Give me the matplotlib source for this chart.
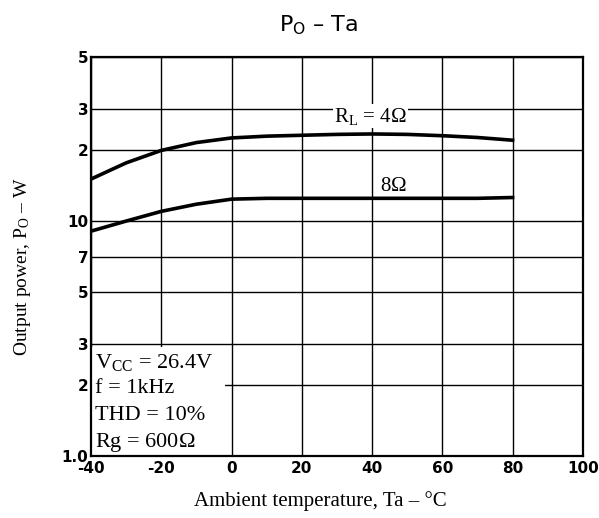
import numpy as np
import matplotlib
matplotlib.use("Agg")
import matplotlib.pyplot as plt
from matplotlib.patches import Rectangle

plt.rcParams["mathtext.fontset"] = "custom"
plt.rcParams["mathtext.rm"] = "Liberation Serif"
plt.rcParams["mathtext.it"] = "Liberation Serif:italic"
plt.rcParams["mathtext.sf"] = "DejaVu Sans"

# data
temp = [-40, -30, -20, -10, 0, 10, 20, 30, 40, 50, 60, 70, 80]
po_4ohm = [15.1, 17.7, 20.0, 21.6, 22.6, 23.0, 23.2, 23.4, 23.5, 23.4, 23.1, 22.7, 22.1]
po_8ohm = [9.06, 10.0, 11.0, 11.8, 12.4, 12.5, 12.5, 12.5, 12.5, 12.5, 12.5, 12.5, 12.6]

xticks = [-40, -20, 0, 20, 40, 60, 80, 100]
xtick_labels = ["-40", "-20", "0", "20", "40", "60", "80", "100"]
yticks = [1, 2, 3, 5, 7, 10, 20, 30, 50]
ytick_labels = ["1.0", "2", "3", "5", "7", "10", "2", "3", "5"]

serif = "Liberation Serif"
sans = "DejaVu Sans"

fig = plt.figure(figsize=(5.99, 5.18), dpi=100)
ax = fig.add_axes([0.152, 0.12, 0.821, 0.77])

ax.set_yscale("log")
ax.set_xlim(-40, 100)
ax.set_ylim(1, 50)

ax.set_xticks(xticks)
ax.set_xticklabels(xtick_labels, fontfamily=sans, fontweight="bold", fontsize=11)
ax.set_yticks(yticks)
ax.set_yticklabels(ytick_labels, fontfamily=sans, fontweight="bold", fontsize=11)
ax.yaxis.set_minor_locator(matplotlib.ticker.NullLocator())
ax.tick_params(length=0, pad=2)
ax.tick_params(axis="x", pad=4)

ax.grid(True, color="black", linewidth=1.0, zorder=1)
for s in ax.spines.values():
    s.set_linewidth(1.6)

# white area behind the condition text
ax.add_patch(Rectangle((-40, 1), 38, 1.9, facecolor="white", edgecolor="none", zorder=2))

ax.plot(temp, po_4ohm, color="black", linewidth=2.6, zorder=3)
ax.plot(temp, po_8ohm, color="black", linewidth=2.6, zorder=3)

ax.text(39.5, 28.0, "R$_\\mathrm{L}$ = 4$\\Omega$", fontfamily=serif, fontsize=15,
        ha="center", va="center", zorder=4,
        bbox=dict(facecolor="white", edgecolor="none", pad=1))
ax.text(46, 14.0, "8$\\Omega$", fontfamily=serif, fontsize=15,
        ha="center", va="center", zorder=4)

cond = ["V$_\\mathrm{CC}$ = 26.4V", "f = 1kHz", "THD = 10%", "Rg = 600$\\Omega$"]
cond_y = [2.5, 1.93, 1.48, 1.14]
for t, yy in zip(cond, cond_y):
    ax.text(-38.8, yy, t, fontfamily=serif, fontsize=16, ha="left", va="center", zorder=4)

ax.set_xlabel("Ambient temperature, Ta – °C", fontfamily=serif, fontsize=15)
ax.xaxis.set_label_coords((320 - 91) / 492, -35 / 399)
ax.set_ylabel("Output power, P$_\\mathrm{O}$ – W", fontfamily=serif, fontsize=14)
ax.yaxis.set_label_coords(-58 / 492, (456 - 267) / 399)
fig.text(318 / 599, 1 - 25 / 518, "P$_\\mathsf{O}$ – Ta", fontfamily=sans, fontsize=16,
         ha="center", va="center")

fig.savefig("out.png", dpi=100)
